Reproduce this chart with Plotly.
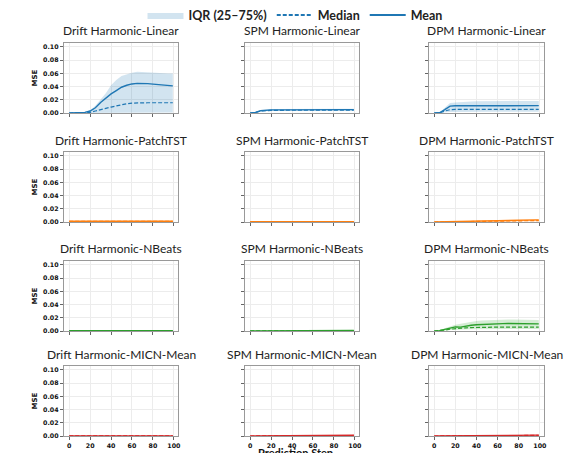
import plotly.graph_objects as go
from plotly.subplots import make_subplots

# prediction steps (x axis)
STEPS = [0, 5, 10, 15, 20, 25, 30, 35, 40, 45, 50, 55, 60, 65, 70, 75, 80, 85, 90, 95, 99]

METHODS = ["Drift", "SPM", "DPM"]
MODELS = ["Linear", "PatchTST", "NBeats", "MICN-Mean"]
MODEL_COLORS = ["#1f77b4", "#ff7f0e", "#2ca02c", "#d62728"]
Y_TICKS = [0.00, 0.02, 0.04, 0.06, 0.08, 0.10]
X_TICKS = [0, 20, 40, 60, 80, 100]

# --- Harmonic-Linear ---
DRIFT_LINEAR_MEAN = [0, 0, 0.0003, 0.001, 0.003, 0.008, 0.016, 0.023, 0.029, 0.034, 0.039,
                     0.042, 0.044, 0.0448, 0.045, 0.0445, 0.0437, 0.043, 0.042, 0.0415, 0.041]
DRIFT_LINEAR_MEDIAN = [0, 0, 0, 0.0002, 0.001, 0.003, 0.0055, 0.007, 0.009, 0.011, 0.0125,
                       0.014, 0.015, 0.0155, 0.0155, 0.0155, 0.0155, 0.0155, 0.0155, 0.0155, 0.0155]
DRIFT_LINEAR_Q75 = [0, 0, 0.0005, 0.0015, 0.004, 0.011, 0.021, 0.030, 0.042, 0.050, 0.056,
                    0.059, 0.061, 0.0625, 0.062, 0.061, 0.0605, 0.060, 0.060, 0.060, 0.060]
DRIFT_LINEAR_Q25 = [0, 0, 0, 0, 0.0001, 0.0002, 0.0003, 0.0004, 0.0005, 0.0006, 0.0007,
                    0.0008, 0.0008, 0.0009, 0.0009, 0.0009, 0.0009, 0.0009, 0.0009, 0.0009, 0.0009]

SPM_LINEAR_MEAN = [0, 0.0008, 0.0035, 0.0045, 0.0047, 0.0048, 0.0049, 0.005, 0.005, 0.0051, 0.0051,
                   0.0052, 0.0052, 0.0052, 0.0052, 0.0052, 0.0052, 0.0051, 0.0051, 0.0051, 0.0051]
SPM_LINEAR_MEDIAN = [0, 0.0006, 0.003, 0.0038, 0.004, 0.0041, 0.0042, 0.0042, 0.0043, 0.0043, 0.0044,
                     0.0044, 0.0044, 0.0044, 0.0044, 0.0044, 0.0044, 0.0043, 0.0043, 0.0043, 0.0043]
SPM_LINEAR_Q75 = [0, 0.001, 0.0045, 0.0058, 0.006, 0.0062, 0.0063, 0.0064, 0.0065, 0.0066, 0.0067,
                  0.0067, 0.0068, 0.0068, 0.0068, 0.0068, 0.0067, 0.0067, 0.0067, 0.0066, 0.0066]
SPM_LINEAR_Q25 = [0, 0.0004, 0.0022, 0.003, 0.0031, 0.0032, 0.0032, 0.0033, 0.0033, 0.0033, 0.0034,
                  0.0034, 0.0034, 0.0034, 0.0034, 0.0034, 0.0034, 0.0034, 0.0034, 0.0034, 0.0034]

DPM_LINEAR_MEAN = [0, 0.0003, 0.005, 0.0105, 0.011, 0.011, 0.0112, 0.0112, 0.0113, 0.0113, 0.0114,
                   0.0114, 0.0115, 0.0115, 0.0115, 0.0114, 0.0114, 0.0113, 0.0112, 0.0112, 0.0111]
DPM_LINEAR_MEDIAN = [0, 0.0002, 0.003, 0.005, 0.0055, 0.0055, 0.0055, 0.0055, 0.0055, 0.0055, 0.0055,
                     0.0055, 0.0055, 0.0055, 0.0055, 0.0055, 0.0055, 0.0055, 0.0055, 0.0055, 0.0055]
DPM_LINEAR_Q75 = [0, 0.0005, 0.008, 0.015, 0.016, 0.0168, 0.0172, 0.0176, 0.0179, 0.0181, 0.0183,
                  0.0184, 0.0185, 0.0185, 0.0185, 0.0184, 0.0183, 0.0182, 0.0181, 0.018, 0.018]
DPM_LINEAR_Q25 = [0, 0, 0.001, 0.0015, 0.0017, 0.0018, 0.0019, 0.002, 0.002, 0.002, 0.002,
                  0.002, 0.002, 0.002, 0.002, 0.002, 0.002, 0.002, 0.002, 0.002, 0.002]

# --- Harmonic-PatchTST ---
DRIFT_PATCHTST_MEAN = [0.0011, 0.0012, 0.0012, 0.0012, 0.0012, 0.0012, 0.0012, 0.0012, 0.0012, 0.0012, 0.0012,
                       0.0012, 0.0012, 0.0012, 0.0012, 0.0012, 0.0012, 0.0012, 0.0012, 0.0012, 0.0012]
DRIFT_PATCHTST_MEDIAN = [0.0009, 0.001, 0.001, 0.001, 0.001, 0.001, 0.001, 0.001, 0.001, 0.001, 0.001,
                         0.001, 0.001, 0.001, 0.001, 0.001, 0.001, 0.001, 0.001, 0.001, 0.001]
DRIFT_PATCHTST_Q75 = [0.0017, 0.0018, 0.0018, 0.0018, 0.0018, 0.0018, 0.0018, 0.0018, 0.0018, 0.0018, 0.0018,
                      0.0018, 0.0018, 0.0018, 0.0018, 0.0018, 0.0018, 0.0018, 0.0018, 0.0018, 0.0018]
DRIFT_PATCHTST_Q25 = [0.0005, 0.0006, 0.0006, 0.0006, 0.0006, 0.0006, 0.0006, 0.0006, 0.0006, 0.0006, 0.0006,
                      0.0006, 0.0006, 0.0006, 0.0006, 0.0006, 0.0006, 0.0006, 0.0006, 0.0006, 0.0006]

SPM_PATCHTST_MEAN = [0.0003, 0.0005, 0.0006, 0.0006, 0.0006, 0.0006, 0.0006, 0.0006, 0.0006, 0.0006, 0.0006,
                     0.0006, 0.0006, 0.0006, 0.0006, 0.0006, 0.0006, 0.0006, 0.0006, 0.0006, 0.0006]
SPM_PATCHTST_MEDIAN = [0.0002, 0.0004, 0.0005, 0.0005, 0.0005, 0.0005, 0.0005, 0.0005, 0.0005, 0.0005, 0.0005,
                       0.0005, 0.0005, 0.0005, 0.0005, 0.0005, 0.0005, 0.0005, 0.0005, 0.0005, 0.0005]
SPM_PATCHTST_Q75 = [0.0004, 0.0008, 0.0009, 0.0009, 0.0009, 0.0009, 0.0009, 0.0009, 0.0009, 0.0009, 0.0009,
                    0.0009, 0.0009, 0.0009, 0.0009, 0.0009, 0.0009, 0.0009, 0.0009, 0.0009, 0.0009]
SPM_PATCHTST_Q25 = [0.0001, 0.0002, 0.0003, 0.0003, 0.0003, 0.0003, 0.0003, 0.0003, 0.0003, 0.0003, 0.0003,
                    0.0003, 0.0003, 0.0003, 0.0003, 0.0003, 0.0003, 0.0003, 0.0003, 0.0003, 0.0003]

DPM_PATCHTST_MEAN = [0, 0.0002, 0.0004, 0.0006, 0.0008, 0.001, 0.0012, 0.0013, 0.0015, 0.0016, 0.0018,
                     0.0019, 0.002, 0.0022, 0.0023, 0.0024, 0.0026, 0.0027, 0.0028, 0.003, 0.0032]
DPM_PATCHTST_MEDIAN = [0, 0.0001, 0.0003, 0.0004, 0.0006, 0.0007, 0.0008, 0.0009, 0.001, 0.0011, 0.0012,
                       0.0013, 0.0014, 0.0015, 0.0016, 0.0017, 0.0018, 0.0019, 0.002, 0.0021, 0.0022]
DPM_PATCHTST_Q75 = [0, 0.0003, 0.0006, 0.0008, 0.0011, 0.0014, 0.0017, 0.0018, 0.0021, 0.0022, 0.0025,
                    0.0027, 0.0028, 0.0031, 0.0032, 0.0034, 0.0036, 0.0038, 0.0039, 0.0042, 0.0045]
DPM_PATCHTST_Q25 = [0, 0.0001, 0.0002, 0.0002, 0.0003, 0.0004, 0.0005, 0.0005, 0.0006, 0.0006, 0.0007,
                    0.0008, 0.0008, 0.0009, 0.0009, 0.001, 0.001, 0.0011, 0.0011, 0.0012, 0.0013]

# --- Harmonic-NBeats ---
DRIFT_NBEATS_MEAN = [0.0003, 0.0003, 0.0003, 0.0003, 0.0003, 0.0003, 0.0003, 0.0003, 0.0003, 0.0003, 0.0003,
                     0.0003, 0.0003, 0.0003, 0.0003, 0.0003, 0.0003, 0.0003, 0.0003, 0.0003, 0.0003]
DRIFT_NBEATS_MEDIAN = [0.0002, 0.0002, 0.0002, 0.0002, 0.0002, 0.0002, 0.0002, 0.0002, 0.0002, 0.0002, 0.0002,
                       0.0002, 0.0002, 0.0002, 0.0002, 0.0002, 0.0002, 0.0002, 0.0002, 0.0002, 0.0002]
DRIFT_NBEATS_Q75 = [0.0004, 0.0004, 0.0004, 0.0004, 0.0004, 0.0004, 0.0004, 0.0004, 0.0004, 0.0004, 0.0004,
                    0.0004, 0.0004, 0.0004, 0.0004, 0.0004, 0.0004, 0.0004, 0.0004, 0.0004, 0.0004]
DRIFT_NBEATS_Q25 = [0.0001, 0.0001, 0.0001, 0.0001, 0.0001, 0.0001, 0.0001, 0.0001, 0.0001, 0.0001, 0.0001,
                    0.0001, 0.0001, 0.0001, 0.0001, 0.0001, 0.0001, 0.0001, 0.0001, 0.0001, 0.0001]

SPM_NBEATS_MEAN = [0.0001, 0.0002, 0.0003, 0.0003, 0.0004, 0.0004, 0.0004, 0.0005, 0.0005, 0.0005, 0.0006,
                   0.0006, 0.0006, 0.0007, 0.0007, 0.0007, 0.0008, 0.0008, 0.0008, 0.0009, 0.0009]
SPM_NBEATS_MEDIAN = [0.0001, 0.0001, 0.0002, 0.0002, 0.0003, 0.0003, 0.0003, 0.0003, 0.0004, 0.0004, 0.0004,
                     0.0004, 0.0005, 0.0005, 0.0005, 0.0005, 0.0006, 0.0006, 0.0006, 0.0006, 0.0007]
SPM_NBEATS_Q75 = [0.0002, 0.0003, 0.0004, 0.0004, 0.0005, 0.0005, 0.0006, 0.0006, 0.0007, 0.0007, 0.0008,
                  0.0008, 0.0008, 0.0009, 0.0009, 0.001, 0.001, 0.0011, 0.0011, 0.0012, 0.0012]
SPM_NBEATS_Q25 = [0, 0.0001, 0.0001, 0.0001, 0.0001, 0.0002, 0.0002, 0.0002, 0.0002, 0.0002, 0.0002,
                  0.0003, 0.0003, 0.0003, 0.0003, 0.0003, 0.0003, 0.0003, 0.0004, 0.0004, 0.0004]

DPM_NBEATS_MEAN = [0, 0.0006, 0.0025, 0.0045, 0.0062, 0.0058, 0.0078, 0.0088, 0.0095, 0.01, 0.0104,
                   0.0107, 0.011, 0.0112, 0.0113, 0.0114, 0.0114, 0.0113, 0.0112, 0.011, 0.0108]
DPM_NBEATS_MEDIAN = [0, 0.0003, 0.0015, 0.0028, 0.0038, 0.0042, 0.0048, 0.0052, 0.0055, 0.0057, 0.0058,
                     0.0059, 0.006, 0.006, 0.006, 0.006, 0.006, 0.006, 0.0059, 0.0059, 0.0058]
DPM_NBEATS_Q75 = [0, 0.001, 0.004, 0.007, 0.0095, 0.011, 0.0125, 0.014, 0.015, 0.0158, 0.0163,
                  0.0167, 0.017, 0.0172, 0.0173, 0.0173, 0.0172, 0.0171, 0.017, 0.0168, 0.0165]
DPM_NBEATS_Q25 = [0, 0.0001, 0.0008, 0.0015, 0.002, 0.0023, 0.0025, 0.0027, 0.0028, 0.003, 0.003,
                  0.0031, 0.0031, 0.0031, 0.0031, 0.0031, 0.0031, 0.0031, 0.0031, 0.0031, 0.0031]

# --- Harmonic-MICN-Mean ---
DRIFT_MICN_MEAN = [0.0002, 0.0002, 0.0002, 0.0002, 0.0002, 0.0002, 0.0002, 0.0002, 0.0002, 0.0002, 0.0002,
                   0.0002, 0.0002, 0.0002, 0.0002, 0.0002, 0.0002, 0.0002, 0.0002, 0.0002, 0.0002]
DRIFT_MICN_MEDIAN = [0.0001, 0.0001, 0.0001, 0.0001, 0.0001, 0.0001, 0.0001, 0.0001, 0.0001, 0.0001, 0.0001,
                     0.0001, 0.0001, 0.0001, 0.0001, 0.0001, 0.0001, 0.0001, 0.0001, 0.0001, 0.0001]
DRIFT_MICN_Q75 = [0.0003, 0.0003, 0.0003, 0.0003, 0.0003, 0.0003, 0.0003, 0.0003, 0.0003, 0.0003, 0.0003,
                  0.0003, 0.0003, 0.0003, 0.0003, 0.0003, 0.0003, 0.0003, 0.0003, 0.0003, 0.0003]
DRIFT_MICN_Q25 = [0.00005, 0.00005, 0.00005, 0.00005, 0.00005, 0.00005, 0.00005, 0.00005, 0.00005, 0.00005, 0.00005,
                  0.00005, 0.00005, 0.00005, 0.00005, 0.00005, 0.00005, 0.00005, 0.00005, 0.00005, 0.00005]

SPM_MICN_MEAN = [0, 0.0001, 0.0002, 0.0002, 0.0003, 0.0004, 0.0004, 0.0005, 0.0006, 0.0006, 0.0007,
                 0.0007, 0.0008, 0.0008, 0.0009, 0.0009, 0.001, 0.001, 0.0011, 0.0011, 0.0012]
SPM_MICN_MEDIAN = [0, 0, 0.0001, 0.0001, 0.0002, 0.0002, 0.0003, 0.0003, 0.0004, 0.0004, 0.0004,
                   0.0005, 0.0005, 0.0005, 0.0006, 0.0006, 0.0006, 0.0007, 0.0007, 0.0007, 0.0008]
SPM_MICN_Q75 = [0, 0.0001, 0.0002, 0.0003, 0.0004, 0.0005, 0.0005, 0.0006, 0.0007, 0.0008, 0.0008,
                0.0009, 0.001, 0.001, 0.0011, 0.0012, 0.0012, 0.0013, 0.0014, 0.0014, 0.0015]
SPM_MICN_Q25 = [0, 0, 0, 0.0001, 0.0001, 0.0001, 0.0001, 0.0002, 0.0002, 0.0002, 0.0002,
                0.0002, 0.0003, 0.0003, 0.0003, 0.0003, 0.0003, 0.0004, 0.0004, 0.0004, 0.0004]

DPM_MICN_MEAN = [0, 0.0001, 0.0002, 0.0003, 0.0004, 0.0004, 0.0005, 0.0006, 0.0006, 0.0007, 0.0008,
                 0.0008, 0.0009, 0.001, 0.001, 0.0011, 0.0012, 0.0012, 0.0013, 0.0013, 0.0014]
DPM_MICN_MEDIAN = [0, 0.0001, 0.0001, 0.0002, 0.0002, 0.0003, 0.0003, 0.0004, 0.0004, 0.0005, 0.0005,
                   0.0005, 0.0006, 0.0006, 0.0007, 0.0007, 0.0007, 0.0008, 0.0008, 0.0009, 0.0009]
DPM_MICN_Q75 = [0, 0.0001, 0.0003, 0.0004, 0.0005, 0.0006, 0.0007, 0.0008, 0.0008, 0.0009, 0.001,
                0.0011, 0.0012, 0.0013, 0.0013, 0.0014, 0.0015, 0.0016, 0.0016, 0.0017, 0.0018]
DPM_MICN_Q25 = [0, 0, 0.0001, 0.0001, 0.0001, 0.0001, 0.0002, 0.0002, 0.0002, 0.0002, 0.0003,
                0.0003, 0.0003, 0.0003, 0.0003, 0.0004, 0.0004, 0.0004, 0.0004, 0.0005, 0.0005]

# (mean, median, q25, q75) per panel, indexed [model row][method col]
PANELS = [
    [(DRIFT_LINEAR_MEAN, DRIFT_LINEAR_MEDIAN, DRIFT_LINEAR_Q25, DRIFT_LINEAR_Q75),
     (SPM_LINEAR_MEAN, SPM_LINEAR_MEDIAN, SPM_LINEAR_Q25, SPM_LINEAR_Q75),
     (DPM_LINEAR_MEAN, DPM_LINEAR_MEDIAN, DPM_LINEAR_Q25, DPM_LINEAR_Q75)],
    [(DRIFT_PATCHTST_MEAN, DRIFT_PATCHTST_MEDIAN, DRIFT_PATCHTST_Q25, DRIFT_PATCHTST_Q75),
     (SPM_PATCHTST_MEAN, SPM_PATCHTST_MEDIAN, SPM_PATCHTST_Q25, SPM_PATCHTST_Q75),
     (DPM_PATCHTST_MEAN, DPM_PATCHTST_MEDIAN, DPM_PATCHTST_Q25, DPM_PATCHTST_Q75)],
    [(DRIFT_NBEATS_MEAN, DRIFT_NBEATS_MEDIAN, DRIFT_NBEATS_Q25, DRIFT_NBEATS_Q75),
     (SPM_NBEATS_MEAN, SPM_NBEATS_MEDIAN, SPM_NBEATS_Q25, SPM_NBEATS_Q75),
     (DPM_NBEATS_MEAN, DPM_NBEATS_MEDIAN, DPM_NBEATS_Q25, DPM_NBEATS_Q75)],
    [(DRIFT_MICN_MEAN, DRIFT_MICN_MEDIAN, DRIFT_MICN_Q25, DRIFT_MICN_Q75),
     (SPM_MICN_MEAN, SPM_MICN_MEDIAN, SPM_MICN_Q25, SPM_MICN_Q75),
     (DPM_MICN_MEAN, DPM_MICN_MEDIAN, DPM_MICN_Q25, DPM_MICN_Q75)],
]

W, H = 574, 453
COL_PX = [(56, 170), (237, 351), (421, 536)]   # panel left/right in pixels
ROW_PX = [(35, 105), (144, 214), (253, 323), (358, 428)]  # panel top/bottom in pixels


def rgba(hex_color, alpha):
    h = hex_color.lstrip("#")
    r, g, b = int(h[0:2], 16), int(h[2:4], 16), int(h[4:6], 16)
    return f"rgba({r},{g},{b},{alpha})"


fig = make_subplots(rows=4, cols=3)

for r, model in enumerate(MODELS):
    color = MODEL_COLORS[r]
    for c, method in enumerate(METHODS):
        mean, median, q25, q75 = PANELS[r][c]
        # IQR band
        fig.add_trace(go.Scatter(x=STEPS, y=q25, mode="lines", line=dict(width=0, color=color),
                                 showlegend=False, hoverinfo="skip"), row=r + 1, col=c + 1)
        fig.add_trace(go.Scatter(x=STEPS, y=q75, mode="lines", line=dict(width=0, color=color),
                                 fill="tonexty", fillcolor=rgba(color, 0.2),
                                 showlegend=False, hoverinfo="skip"), row=r + 1, col=c + 1)
        fig.add_trace(go.Scatter(x=STEPS, y=median, mode="lines",
                                 line=dict(color=color, width=1.2, dash="4px,2px"),
                                 showlegend=False), row=r + 1, col=c + 1)
        fig.add_trace(go.Scatter(x=STEPS, y=mean, mode="lines",
                                 line=dict(color=color, width=1.4),
                                 showlegend=False), row=r + 1, col=c + 1)

        n = r * 3 + c + 1
        x0, x1 = COL_PX[c]
        y0, y1 = ROW_PX[r]
        fig.update_layout({
            f"xaxis{n}": dict(domain=[x0 / W, x1 / W]),
            f"yaxis{n}": dict(domain=[1 - y1 / H, 1 - y0 / H]),
        })
        fig.add_annotation(text=f"{method} Harmonic-{model}", xref="paper", yref="paper",
                           x=(x0 + x1) / 2 / W, xanchor="center", y=1 - y0 / H, yanchor="middle",
                           yshift=12, showarrow=False,
                           font=dict(family="Lato", size=12, color="#222"))

# legend entries (blue, as in the original)
fig.add_trace(go.Scatter(x=[None], y=[None], mode="lines", fill="toself",
                         fillcolor=rgba(MODEL_COLORS[0], 0.2), line=dict(width=0),
                         name="IQR (25–75%)"))
fig.add_trace(go.Scatter(x=[None], y=[None], mode="lines",
                         line=dict(color=MODEL_COLORS[0], width=2, dash="4px,2px"), name="Median"))
fig.add_trace(go.Scatter(x=[None], y=[None], mode="lines",
                         line=dict(color=MODEL_COLORS[0], width=2), name="Mean"))

fig.update_xaxes(range=[-4.95, 103.95], tickvals=X_TICKS, showticklabels=False,
                 ticks="outside", ticklen=3, tickwidth=0.8, tickcolor="#666",
                 showgrid=True, gridcolor="#ececec", gridwidth=0.8, zeroline=False,
                 showline=True, linecolor="#999", linewidth=1.2, mirror=True,
                 tickfont=dict(family="DejaVu Sans", size=6.3, color="#111", weight="bold"))
fig.update_yaxes(range=[0, 0.106], tickvals=Y_TICKS, tickformat=".2f", showticklabels=False,
                 ticks="outside", ticklen=3, tickwidth=0.8, tickcolor="#666",
                 showgrid=True, gridcolor="#ececec", gridwidth=0.8, zeroline=False,
                 showline=True, linecolor="#999", linewidth=1.2, mirror=True,
                 tickfont=dict(family="DejaVu Sans", size=6.3, color="#111", weight="bold"))

for c in range(3):
    fig.update_xaxes(showticklabels=True, row=4, col=c + 1)
for r in range(4):
    fig.update_yaxes(showticklabels=True, row=r + 1, col=1,
                     title=dict(text="MSE", standoff=4,
                                font=dict(family="DejaVu Sans", size=7, color="#111", weight="bold")))

fig.add_annotation(text="Prediction Step", xref="paper", yref="paper", x=0.5, xanchor="center",
                   y=0, yanchor="middle", yshift=9, showarrow=False,
                   font=dict(family="Lato", size=11, color="#111", weight="bold"))

fig.update_layout(
    width=W, height=H,
    margin=dict(l=0, r=0, t=0, b=0, autoexpand=False),
    plot_bgcolor="white", paper_bgcolor="white",
    showlegend=True,
    legend=dict(orientation="h", x=0.5, xanchor="center", y=1.017, yanchor="top",
                traceorder="normal",
                font=dict(family="Lato", size=12.5, color="#222", weight="bold"),
                itemwidth=36, tracegroupgap=0, bgcolor="rgba(0,0,0,0)"),
)

fig.write_html("out.html")
